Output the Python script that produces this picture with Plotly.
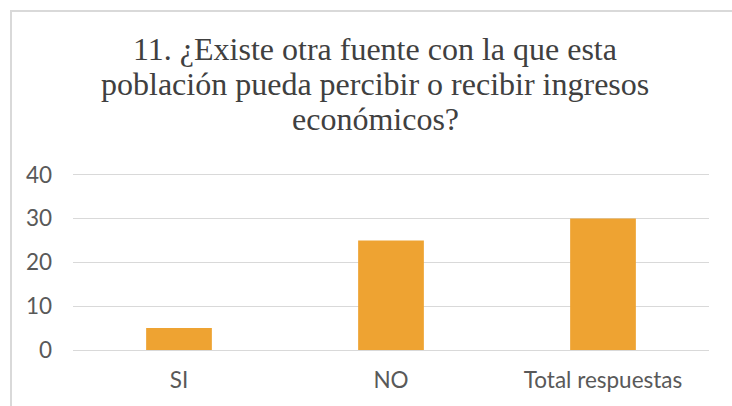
import plotly.graph_objects as go

categories = ["SI", "NO", "Total respuestas"]
values = [5, 25, 30]
y_ticks = [0, 10, 20, 30, 40]

title_lines = [
    "11. ¿Existe otra fuente con la que esta",
    "población pueda percibir o recibir ingresos",
    "económicos?",
]

bar_color = "#EEA332"
grid_color = "#D9D9D9"
text_color = "#595959"
title_color = "#404040"

fig = go.Figure(
    go.Bar(
        x=categories,
        y=values,
        marker=dict(color=bar_color, line=dict(width=0)),
        hoverinfo="x+y",
    )
)

# plot area spans 73..709 px horizontally, ~173..350 px vertically
L, R, T, B = 73, 23, 173, 56
W, H = 732, 406
pw, ph = W - L - R, H - T - B

def px_x(px):
    return (px - L) / pw

def px_y(py):
    return (H - B - py) / ph

# title set line by line for tight serif line spacing
title_centers = [49, 84, 119]
annotations = [
    dict(
        text=line,
        xref="paper",
        yref="paper",
        x=px_x(375),
        y=px_y(cy),
        xanchor="center",
        yanchor="middle",
        showarrow=False,
        font=dict(family="Liberation Serif, Times New Roman, serif", size=32, color=title_color),
    )
    for line, cy in zip(title_lines, title_centers)
]

tick_font = dict(family="Lato, Carlito, sans-serif", size=22.5, color=text_color)

fig.update_layout(
    width=W,
    height=H,
    margin=dict(l=L, r=R, t=T, b=B, pad=0),
    paper_bgcolor="white",
    plot_bgcolor="white",
    bargap=0.69,
    showlegend=False,
    annotations=annotations,
    xaxis=dict(
        showgrid=False,
        showline=False,
        zeroline=False,
        ticks="",
        ticklabelstandoff=14,
        tickfont=tick_font,
    ),
    yaxis=dict(
        range=[0, 40.4],
        tickvals=y_ticks,
        showgrid=True,
        gridcolor=grid_color,
        gridwidth=1.3,
        zeroline=True,
        zerolinecolor=grid_color,
        zerolinewidth=1.3,
        showline=False,
        ticks="",
        ticklabelstandoff=20,
        tickfont=tick_font,
    ),
    shapes=[
        dict(
            type="rect",
            xref="paper",
            yref="paper",
            x0=px_x(11),
            x1=px_x(760),
            y0=px_y(430),
            y1=px_y(11),
            line=dict(color=grid_color, width=2),
            fillcolor="rgba(0,0,0,0)",
            layer="below",
        )
    ],
)

fig.write_html("out.html")
